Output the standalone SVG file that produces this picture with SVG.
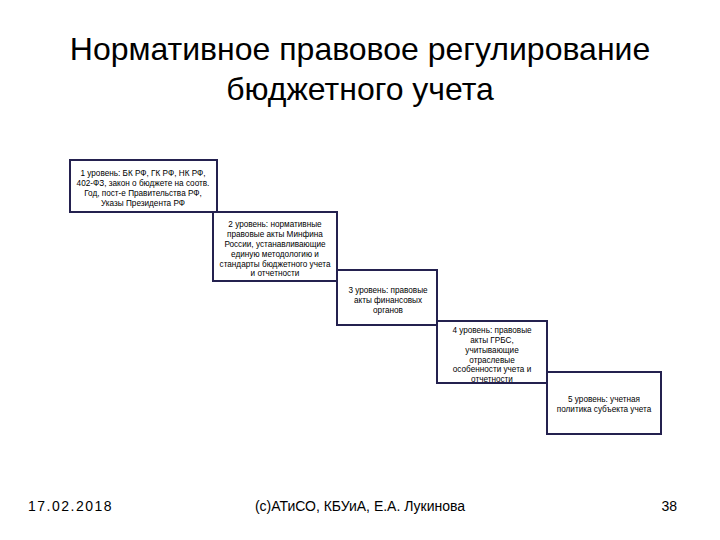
<svg xmlns="http://www.w3.org/2000/svg" width="720" height="540" viewBox="0 0 720 540">
<style>
.title{font-family:"Liberation Sans",Arial,sans-serif;font-size:32px;fill:#000;text-anchor:middle}
.foot{font-family:"Liberation Sans",Arial,sans-serif;font-size:14px;fill:#000}
.box{fill:#fff;stroke:#24214f;stroke-width:2}
.t{font-family:"Liberation Sans",Arial,sans-serif;font-size:8.2px;fill:#000;text-anchor:middle}
</style>
<rect width="720" height="540" fill="#fff"/>
<text class="title" x="360" y="60">Нормативное правовое регулирование</text>
<text class="title" x="360" y="100">бюджетного учета</text>
<g id="level1">
<rect class="box" x="70" y="160" width="147" height="52"/>
<text class="t" x="143" y="176">1 уровень: БК РФ, ГК РФ, НК РФ,</text>
<text class="t" x="143" y="186">402-ФЗ, закон о бюджете на соотв.</text>
<text class="t" x="143" y="196">Год, пост-е Правительства РФ,</text>
<text class="t" x="143" y="206">Указы Президента РФ</text>
</g>
<g id="level2">
<rect class="box" x="213" y="212" width="124" height="69"/>
<text class="t" x="275" y="227">2 уровень: нормативные</text>
<text class="t" x="275" y="237">правовые акты Минфина</text>
<text class="t" x="275" y="247">России, устанавливающие</text>
<text class="t" x="275" y="257">единую методологию и</text>
<text class="t" x="275" y="267">стандарты бюджетного учета</text>
<text class="t" x="275" y="276">и отчетности</text>
</g>
<g id="level3">
<rect class="box" x="337" y="270" width="100" height="55"/>
<text class="t" x="388" y="293">3 уровень: правовые</text>
<text class="t" x="388" y="303">акты финансовых</text>
<text class="t" x="388" y="313">органов</text>
</g>
<g id="level4">
<rect class="box" x="437" y="321" width="110" height="62"/>
<text class="t" x="492" y="333">4 уровень: правовые</text>
<text class="t" x="492" y="343">акты ГРБС,</text>
<text class="t" x="492" y="353">учитывающие</text>
<text class="t" x="492" y="363">отраслевые</text>
<text class="t" x="492" y="372">особенности учета и</text>
<text class="t" x="492" y="382">отчетности</text>
</g>
<g id="level5">
<rect class="box" x="547" y="372" width="114" height="62"/>
<text class="t" x="604" y="402">5 уровень: учетная</text>
<text class="t" x="604" y="412">политика субъекта учета</text>
</g>
<g id="connectors"></g>
<text class="foot" x="28" y="511" letter-spacing="1.5">17.02.2018</text>
<text class="foot" x="360" y="511" text-anchor="middle">(c)АТиСО, КБУиА, Е.А. Лукинова</text>
<text class="foot" x="677" y="511" text-anchor="end">38</text>
</svg>
